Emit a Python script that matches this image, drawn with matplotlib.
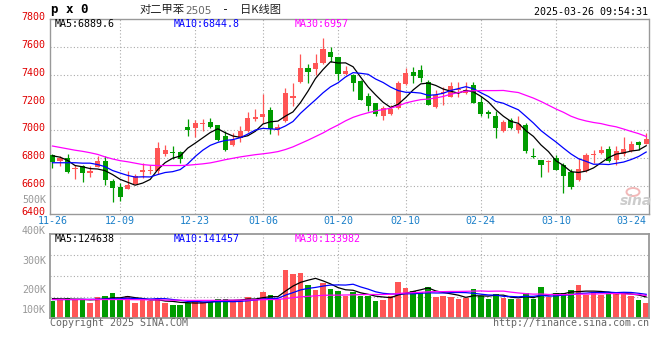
#!/usr/bin/env python3
"""
对二甲苯2505 日K线图 (仿新浪财经) —— 上方K线+均线，下方成交量+均量线
"""

import matplotlib
matplotlib.use('Agg')
import matplotlib.pyplot as plt
from matplotlib.patches import Ellipse
import numpy as np
import pandas as pd

# ---------------- 数据 ----------------
# 交易日: 2024-11-26 ~ 2025-03-26, 去掉元旦和春节休市
holidays = ['2025-01-01', '2025-01-28', '2025-01-29', '2025-01-30',
            '2025-01-31', '2025-02-03', '2025-02-04']
dates = pd.bdate_range('2024-11-26', '2025-03-26').drop(pd.to_datetime(holidays))
date_labels = list(dates.strftime('%m-%d'))

tick_dates = ['11-26', '12-09', '12-23', '01-06', '01-20', '02-10', '02-24', '03-10', '03-24']

opens = [6820, 6780, 6800, 6720, 6742, 6697, 6736, 6782, 6638, 6595,
         6576, 6612, 6700, 6707, 6712, 6833, 6840, 6843, 7024, 7017,
         7045, 7062, 7038, 6962, 6893, 6945, 6993, 7083, 7093, 7148,
         7005, 7065, 7236, 7348, 7448, 7443, 7486, 7562, 7524, 7403,
         7398, 7355, 7248, 7195, 7100, 7117, 7160, 7331, 7417, 7434,
         7345, 7165, 7271, 7243, 7291, 7267, 7326, 7205, 7134, 7105,
         6993, 7072, 7000, 7036, 6818, 6791, 6770, 6803, 6750, 6700,
         6643, 6707, 6822, 6838, 6869, 6791, 6833, 6850, 6915, 6903]
highs = [6832, 6819, 6831, 6755, 6755, 6743, 6814, 6814, 6648, 6619,
         6707, 6684, 6767, 6755, 6919, 6898, 6891, 6850, 7081, 7076,
         7081, 7088, 7040, 6993, 6981, 7034, 7131, 7155, 7262, 7167,
         7045, 7307, 7338, 7548, 7476, 7548, 7662, 7600, 7530, 7462,
         7405, 7360, 7272, 7200, 7176, 7184, 7357, 7445, 7457, 7469,
         7362, 7290, 7315, 7350, 7348, 7348, 7350, 7248, 7148, 7136,
         7072, 7088, 7100, 7053, 6874, 6791, 6791, 6826, 6767, 6724,
         6800, 6838, 6862, 6886, 6886, 6886, 6953, 6921, 6921, 6981]
lows = [6730, 6743, 6695, 6648, 6629, 6665, 6736, 6605, 6486, 6493,
        6576, 6612, 6660, 6684, 6684, 6819, 6795, 6767, 6962, 6952,
        6993, 7020, 6925, 6855, 6888, 6915, 6990, 7065, 7050, 6976,
        6967, 7060, 7172, 7340, 7338, 7395, 7480, 7491, 7362, 7400,
        7286, 7215, 7136, 7100, 7076, 7110, 7155, 7325, 7338, 7350,
        7180, 7160, 7184, 7240, 7243, 7262, 7195, 7100, 7088, 6945,
        6990, 7010, 6981, 6838, 6800, 6667, 6700, 6715, 6548, 6580,
        6640, 6700, 6767, 6830, 6775, 6755, 6814, 6845, 6862, 6900]
closes = [6770, 6800, 6700, 6728, 6695, 6707, 6784, 6642, 6588, 6522,
          6605, 6676, 6719, 6717, 6874, 6857, 6836, 6798, 7000, 7052,
          7048, 7026, 6934, 6857, 6934, 6998, 7088, 7095, 7117, 7010,
          7024, 7267, 7248, 7450, 7419, 7481, 7588, 7529, 7403, 7426,
          7338, 7219, 7172, 7119, 7160, 7153, 7338, 7410, 7393, 7374,
          7184, 7255, 7279, 7319, 7298, 7291, 7200, 7119, 7117, 7014,
          7060, 7017, 7048, 6850, 6812, 6755, 6776, 6719, 6676, 6595,
          6724, 6826, 6833, 6862, 6779, 6850, 6869, 6900, 6895, 6940]

ma5 = [6818, 6808, 6785, 6748, 6739, 6726, 6723, 6711, 6683, 6649,
       6628, 6607, 6622, 6648, 6718, 6769, 6801, 6816, 6873, 6909,
       6947, 6985, 7012, 6983, 6960, 6950, 6962, 6994, 7046, 7062,
       7067, 7103, 7133, 7200, 7282, 7373, 7437, 7493, 7484, 7485,
       7457, 7383, 7312, 7255, 7202, 7165, 7188, 7236, 7291, 7334,
       7340, 7323, 7297, 7282, 7267, 7288, 7277, 7245, 7205, 7148,
       7102, 7065, 7051, 6998, 6957, 6896, 6848, 6782, 6748, 6704,
       6698, 6708, 6731, 6768, 6805, 6830, 6839, 6852, 6859, 6890]
ma10 = [6768, 6768, 6768, 6768, 6765, 6765, 6755, 6740, 6712, 6694,
        6677, 6665, 6667, 6666, 6683, 6698, 6704, 6719, 6760, 6813,
        6858, 6893, 6914, 6928, 6934, 6948, 6974, 7003, 7015, 7011,
        7008, 7032, 7064, 7123, 7172, 7220, 7270, 7313, 7342, 7384,
        7415, 7410, 7403, 7369, 7344, 7311, 7286, 7274, 7273, 7268,
        7252, 7256, 7267, 7287, 7300, 7314, 7300, 7271, 7244, 7208,
        7195, 7171, 7148, 7101, 7053, 6999, 6957, 6917, 6873, 6831,
        6797, 6778, 6757, 6758, 6755, 6764, 6773, 6791, 6813, 6845]
ma30 = [6888, 6878, 6868, 6858, 6850, 6840, 6828, 6810, 6795, 6783,
        6775, 6765, 6755, 6750, 6748, 6748, 6748, 6748, 6750, 6755,
        6760, 6767, 6778, 6790, 6800, 6810, 6818, 6826, 6832, 6839,
        6848, 6863, 6882, 6906, 6930, 6956, 6982, 7012, 7039, 7069,
        7094, 7112, 7127, 7140, 7150, 7160, 7176, 7197, 7210, 7221,
        7225, 7233, 7244, 7260, 7272, 7282, 7285, 7286, 7286, 7286,
        7287, 7279, 7272, 7252, 7232, 7208, 7181, 7154, 7130, 7102,
        7082, 7068, 7057, 7049, 7036, 7026, 7010, 6993, 6977, 6957]

# 成交量 (K手)
volumes = [103, 113, 119, 111, 107, 89, 125, 131, 149, 107,
           129, 89, 105, 103, 119, 91, 77, 77, 91, 107,
           97, 97, 113, 113, 107, 107, 125, 111, 155, 135,
           111, 286, 262, 268, 196, 167, 210, 172, 161, 131,
           153, 131, 131, 103, 107, 131, 214, 178, 161, 157,
           184, 125, 131, 125, 113, 121, 172, 131, 113, 143,
           119, 113, 113, 149, 113, 184, 125, 149, 149, 167,
           196, 137, 151, 137, 149, 149, 150, 130, 108, 90]
vma5 = [115, 114, 113, 112, 111, 108, 110, 113, 120, 120,
        128, 121, 116, 107, 109, 101, 99, 93, 91, 89,
        90, 94, 101, 105, 105, 107, 113, 113, 121, 127,
        127, 160, 190, 212, 225, 236, 221, 203, 181, 168,
        165, 150, 141, 130, 125, 121, 137, 147, 158, 168,
        179, 161, 152, 144, 136, 123, 132, 132, 130, 136,
        136, 124, 120, 127, 121, 134, 137, 144, 144, 155,
        157, 160, 160, 158, 154, 145, 147, 143, 137, 125]
vma10 = [110, 110, 110, 110, 111, 111, 112, 113, 114, 115,
         118, 116, 114, 113, 115, 115, 110, 105, 99, 99,
         96, 96, 97, 98, 97, 99, 103, 107, 113, 116,
         117, 136, 151, 167, 176, 182, 190, 196, 197, 196,
         201, 185, 172, 156, 147, 143, 143, 144, 144, 147,
         150, 149, 149, 151, 152, 151, 147, 142, 137, 136,
         129, 128, 126, 129, 129, 135, 130, 132, 136, 138,
         146, 148, 152, 151, 154, 151, 153, 152, 147, 141]
vma30 = [110, 110, 110, 110, 110, 110, 110, 110, 110, 110,
         110, 109, 109, 108, 108, 107, 106, 106, 105, 105,
         105, 105, 105, 106, 106, 107, 107, 108, 109, 110,
         110, 116, 121, 126, 129, 132, 135, 136, 136, 137,
         138, 139, 140, 140, 140, 141, 146, 149, 151, 153,
         156, 157, 157, 158, 158, 159, 160, 161, 159, 160,
         160, 154, 149, 145, 142, 143, 140, 139, 139, 140,
         142, 142, 143, 144, 145, 146, 144, 142, 140, 134]

price_ticks = [6400, 6600, 6800, 7000, 7200, 7400, 7600, 7800]
vol_labels = ['500K', '400K', '300K', '200K', '100K']

# ---------------- 样式 ----------------
W, H = 660, 360
RED = '#ff5555'
GREEN = '#009c00'
GRID = '#aaaaaa'
FRAME = '#999999'
MONO = 'DejaVu Sans Mono'
FS = 7.2


def px_rect(left, top, right, bottom):
    """像素坐标(左上为原点) -> figure 坐标"""
    return [left / W, 1 - bottom / H, (right - left) / W, (bottom - top) / H]


def ftext(fig, x, y, s, **kw):
    kw.setdefault('family', MONO)
    kw.setdefault('size', FS)
    fig.text(x / W, 1 - y / H, s, **kw)


def dotted_grid(ax, xs, ys):
    for xv in xs:
        ax.axvline(xv, color=GRID, lw=0.8, ls=(0, (1, 2)), zorder=0)
    for yv in ys:
        ax.axhline(yv, color=GRID, lw=0.8, ls=(0, (1, 2)), zorder=0)


def main():
    plt.rcParams['font.family'] = [MONO, 'Noto Sans CJK SC']

    o = np.array(opens)
    h = np.array(highs)
    l = np.array(lows)
    c = np.array(closes)
    v = np.array(volumes)
    x = np.arange(len(c))
    colors = np.where(c >= o, RED, GREEN)

    tick_pos = [date_labels.index(d) for d in tick_dates]
    grid_x = tick_pos[1:-1]

    fig = plt.figure(figsize=(W / 100, H / 100), dpi=100)
    ax = fig.add_axes(px_rect(50, 19, 649, 214))
    axv = fig.add_axes(px_rect(50, 234, 649, 318))

    xlim = (-0.33, -0.33 + 599 / 7.515)

    # ---- K线 ----
    ax.set_xlim(*xlim)
    ax.set_ylim(6400, 7800)
    dotted_grid(ax, grid_x, price_ticks[1:-1])
    ax.vlines(x, l, h, colors=colors, lw=0.9, zorder=2)
    body_bottom = np.minimum(o, c)
    body_h = np.maximum(np.abs(c - o), 7)
    ax.bar(x, body_h, bottom=body_bottom, width=0.68, color=colors, lw=0, zorder=3)
    ax.plot(x, ma5, color='black', lw=0.9, zorder=4)
    ax.plot(x, ma10, color='#0000ff', lw=0.9, zorder=4)
    ax.plot(x, ma30, color='#ff00ff', lw=0.9, zorder=4)

    ax.set_xticks([])
    ax.set_yticks([])
    for side in ['left', 'top']:
        ax.spines[side].set_linestyle((0, (1, 1)))
    for sp in ax.spines.values():
        sp.set_color(FRAME)
        sp.set_linewidth(1)

    for p in price_ticks:
        ax.annotate(str(p), xy=(0, p), xycoords=('axes fraction', 'data'),
                    xytext=(-3, 1.4), textcoords='offset points',
                    ha='right', va='center', color='#e00000', size=FS, family=MONO,
                    annotation_clip=False)
    for d, pos in zip(tick_dates, tick_pos):
        ax.annotate(d, xy=(pos, 0), xycoords=('data', 'axes fraction'),
                    xytext=(0, -5), textcoords='offset points',
                    ha='center', va='center', color='#1a7fc8', size=FS, family=MONO,
                    annotation_clip=False)

    ax.text(5 / 599, 1 - 5 / 195, 'MA5:6889.6', transform=ax.transAxes,
            ha='left', va='center', color='black', size=FS)
    ax.text(124 / 599, 1 - 5 / 195, 'MA10:6844.8', transform=ax.transAxes,
            ha='left', va='center', color='#0000ff', size=FS)
    ax.text(245 / 599, 1 - 5 / 195, 'MA30:6957', transform=ax.transAxes,
            ha='left', va='center', color='#ff00ff', size=FS)

    # ---- 成交量 ----
    axv.set_xlim(*xlim)
    axv.set_ylim(0, 500)
    dotted_grid(axv, grid_x, [125, 250, 375])
    axv.bar(x, v, width=0.74, color=colors, lw=0, zorder=2)
    axv.plot(x, vma5, color='black', lw=0.9, zorder=3)
    axv.plot(x, vma10, color='#0000ff', lw=0.9, zorder=3)
    axv.plot(x, vma30, color='#ff00ff', lw=0.9, zorder=3)
    axv.set_xticks([])
    axv.set_yticks([])
    for sp in axv.spines.values():
        sp.set_color(FRAME)
        sp.set_linewidth(1.3)

    axv.text(5 / 599, 1 - 4.5 / 84, 'MA5:124638', transform=axv.transAxes,
             ha='left', va='center', color='black', size=FS)
    axv.text(124 / 599, 1 - 4.5 / 84, 'MA10:141457', transform=axv.transAxes,
             ha='left', va='center', color='#0000ff', size=FS)
    axv.text(245 / 599, 1 - 4.5 / 84, 'MA30:133982', transform=axv.transAxes,
             ha='left', va='center', color='#ff00ff', size=FS)

    # 成交量刻度 (原图的位置比较乱, 照抄)
    for lab, yp in zip(vol_labels, [200, 231, 261, 290, 310]):
        ftext(fig, 46, yp, lab, ha='right', va='center', color='#999999')

    # ---- 标题/页脚 ----
    ftext(fig, 51, 10, 'p x 0', ha='left', va='center', size=9, weight='bold')
    cjk = ['Noto Sans CJK SC', 'DejaVu Sans']
    ftext(fig, 140, 10, '对二甲苯', ha='left', va='center', size=8.1, family=cjk, color='#222222')
    ftext(fig, 185, 11, '2505', ha='left', va='center', size=7.5, family='DejaVu Sans',
          color='#666666')
    ftext(fig, 226, 10, '-', ha='center', va='center', size=8.4, color='#222222')
    ftext(fig, 240, 10, '日K线图', ha='left', va='center', size=8.1, family=cjk, color='#222222')
    ftext(fig, 648, 12, '2025-03-26 09:54:31', ha='right', va='center', color='black')

    ftext(fig, 50, 323.5, 'Copyright 2025 SINA.COM', ha='left', va='center', color='#666666')
    ftext(fig, 649, 323.5, 'http://finance.sina.com.cn', ha='right', va='center', color='#666666')

    # sina 水印
    fig.add_artist(Ellipse((633 / W, 1 - 192 / H), 13 / W, 8 / H, transform=fig.transFigure,
                           fill=False, ec='#f2b8b8', lw=1.4))
    ftext(fig, 636, 201, 'sina', ha='center', va='center', size=10, family='DejaVu Sans',
          style='italic', weight='bold', color='#cccccc')

    fig.savefig('out.png', dpi=100)
    plt.close(fig)


if __name__ == '__main__':
    main()
